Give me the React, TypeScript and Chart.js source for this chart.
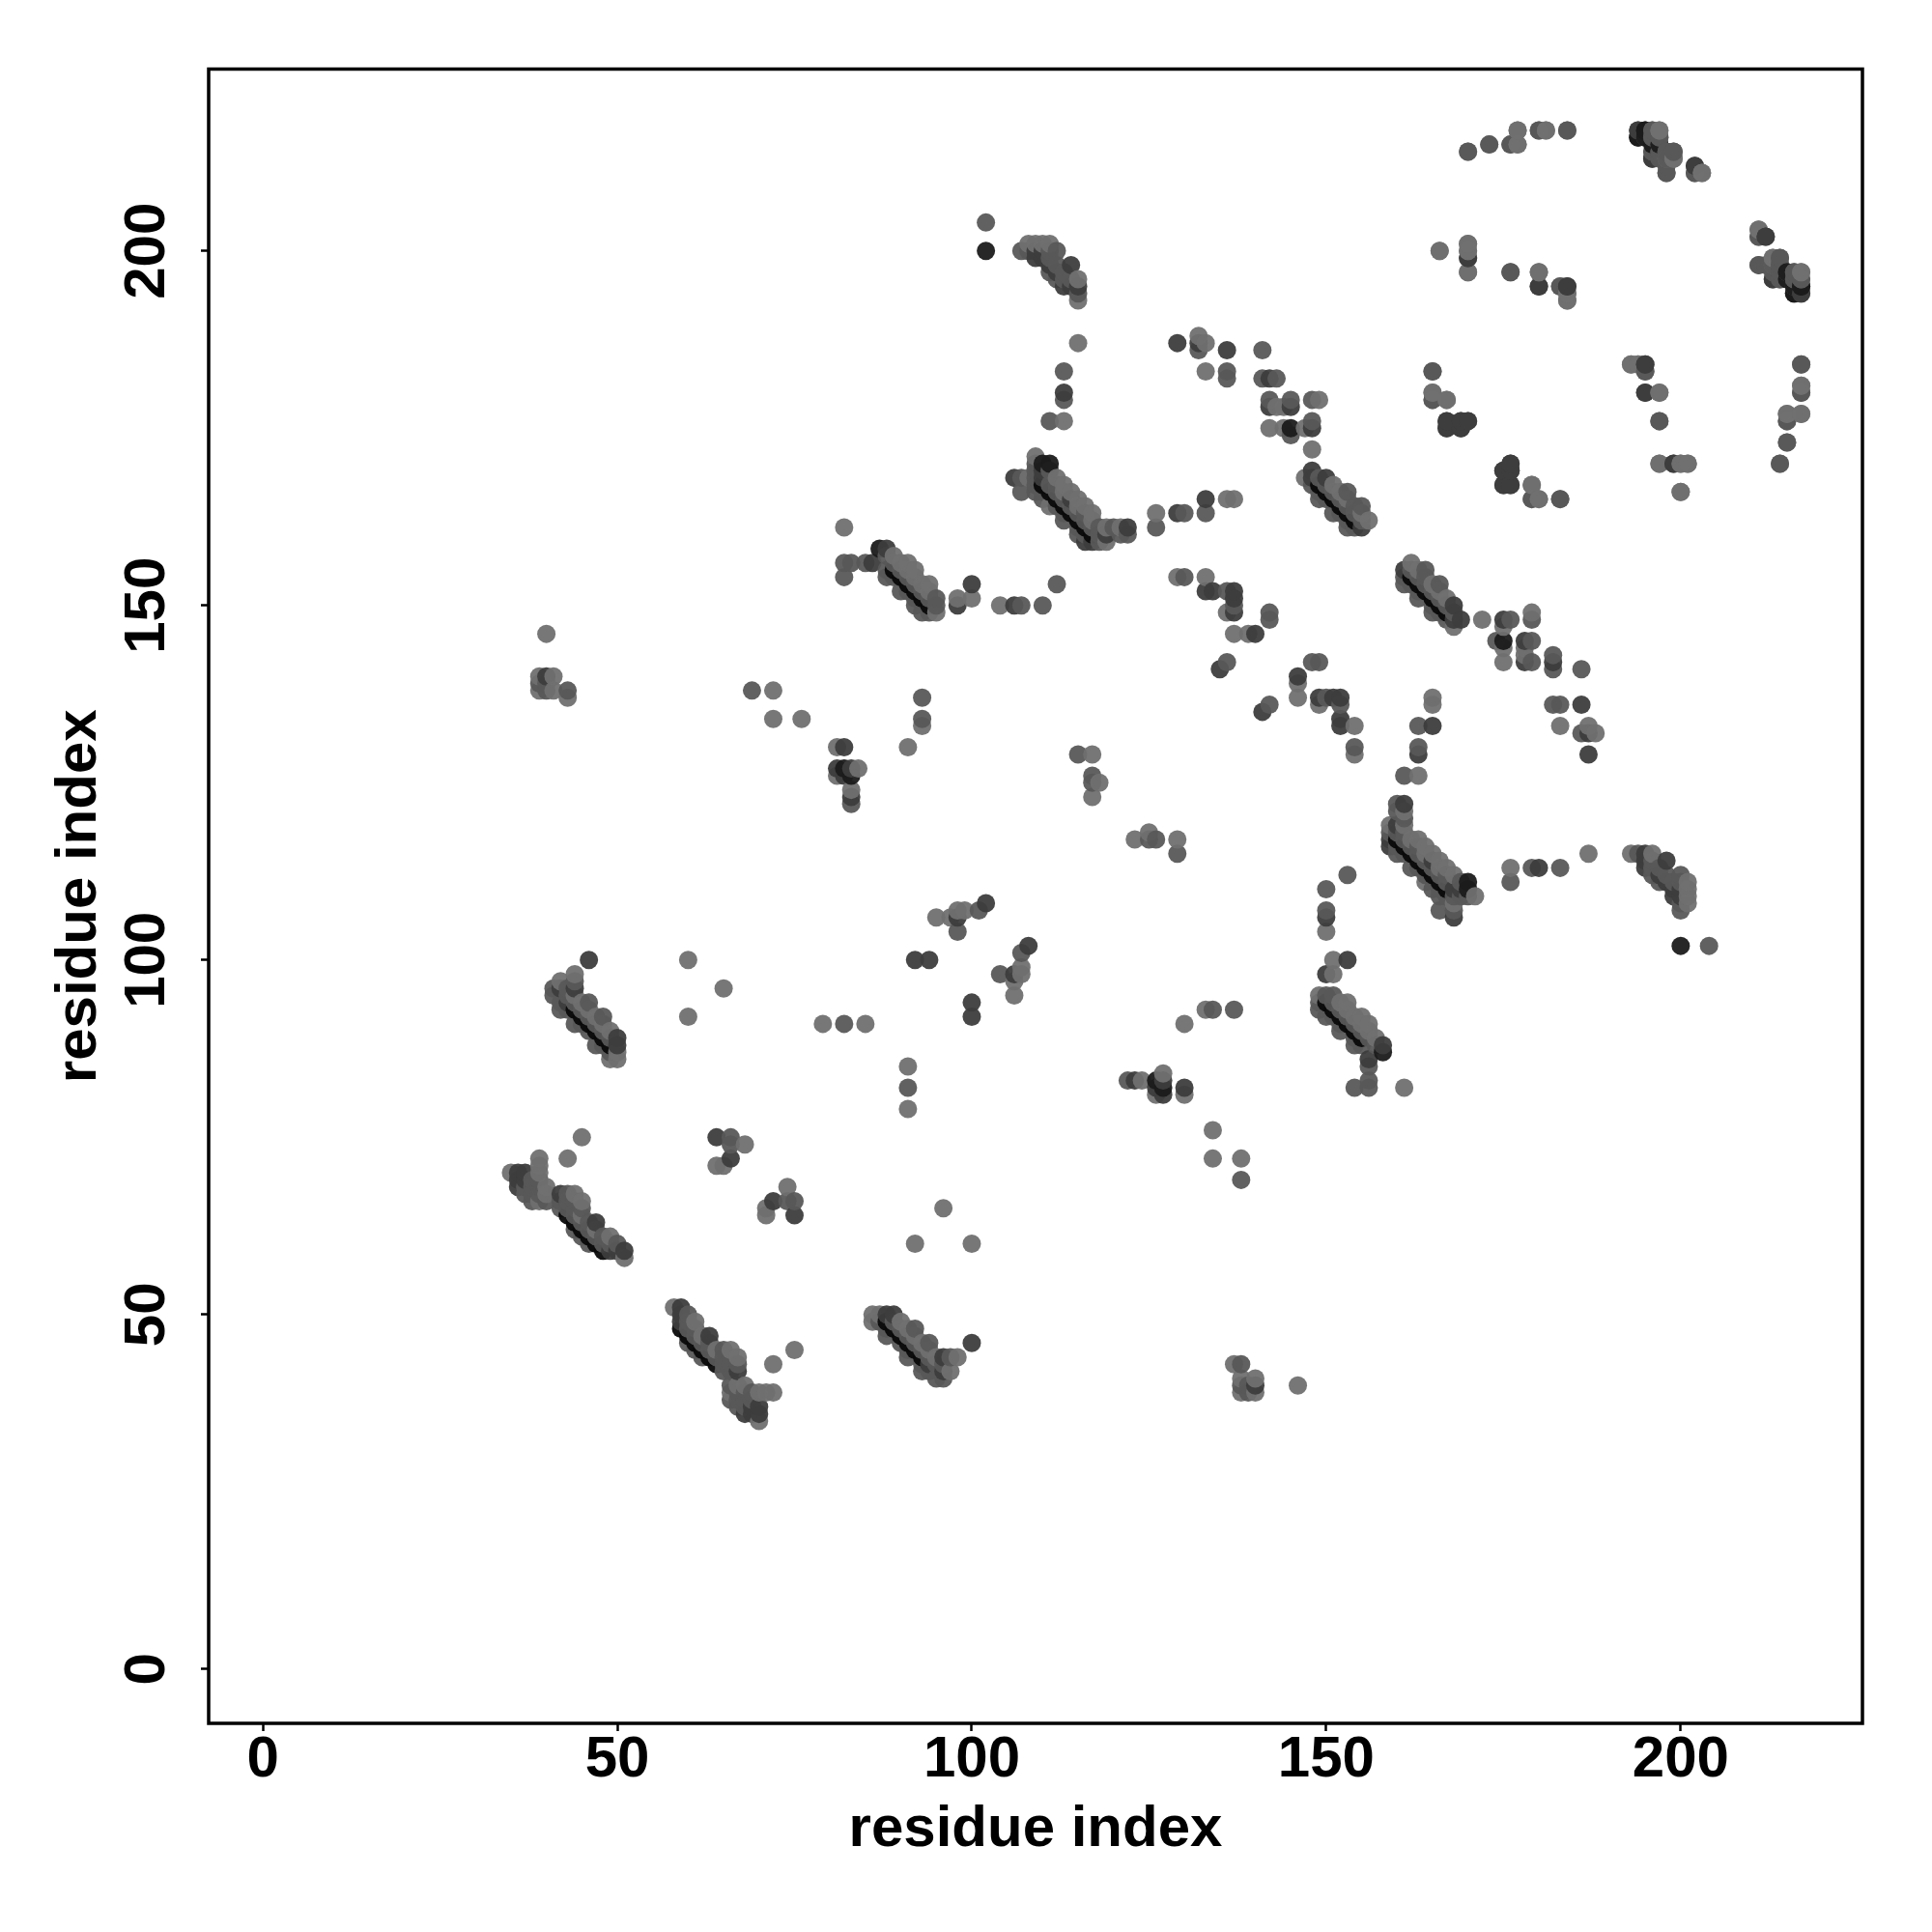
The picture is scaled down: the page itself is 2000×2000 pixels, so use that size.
import React, { useEffect, useRef } from "react";
import { Chart, registerables } from "chart.js";

Chart.register(...registerables);

const tickValues = [0, 50, 100, 150, 200];
const xAxisLabel = "residue index";
const yAxisLabel = "residue index";

// Contacts (i, j) with i < j; the map is symmetric, so each one is also shown as (j, i).
const lightContacts: number[][] = [
  [35,70],[39,72],[39,71],[39,70],[40,68],[40,67],[39,66],[44,67],[45,66],[51,58],[43,72],[45,75],
  [68,74],[64,71],[65,71],[60,92],[60,100],[65,96],[72,138],[72,134],[76,134],[79,91],[85,91],
  [81,130],[84,127],[81,126],[83,124],[91,130],[93,133],[95,106],[97,106],[98,107],[99,107],
  [40,146],[39,140],[41,140],[39,138],[41,138],[43,137],[117,129],[118,125],[117,123],
  [98,151],[100,151],[104,150],[82,161],[89,157],[91,156],[92,155],[94,153],[95,149],
  [90,156],[91,155],[92,154],[93,153],[94,152],[108,201],[109,201],[110,201],[111,201],[115,196],[115,193],[115,187],[113,176],
  [109,171],[108,168],[111,164],[112,168],[113,167],[114,166],[115,165],[116,164],[117,163],[113,166],[115,164],[117,162],[119,161],[119,159],[121,161],
  [126,163],[136,165],[137,165],[132,188],[133,187],[133,183],[143,178],[144,178],[149,179],[142,175],[144,175],[147,175],[148,172],
  [129,154],[133,154],[136,149],[137,146],[139,146],[147,168],[151,167],[153,165],[155,163],[152,166],[156,162],
  [165,180],[167,179],[179,167],[179,165],[180,165],[166,200],[170,201],[170,200],[170,197],[180,197],[183,195],[184,194],[184,193],
  [177,215],[177,217],[181,217],[197,217],[199,213],[203,211],[193,184],[194,184],[197,180],[197,170],[200,170],[201,170],[200,166],
  [211,203],[213,198],[213,199],[217,197],[217,181],[215,177],[217,177],[215,173],[214,170],
  [49,86],[50,86],[50,87],[49,90],[42,97],[44,98],[45,94],[47,92],[44,95],[46,93],[48,91],[49,61],[47,62],[45,64],
];

const midContacts: number[][] = [
  [38,69],[39,69],[37,68],[38,68],[39,68],[38,67],[39,67],[40,66],[38,66],[37,67],[43,67],[42,66],[43,66],[44,66],[45,65],[42,65],[43,65],[44,65],
  [44,64],[45,63],[46,63],[46,62],[44,62],[45,61],[47,61],[48,61],[46,60],[48,60],[49,60],[50,60],
  [66,75],[66,74],[69,138],[82,91],[83,122],[93,137],[93,134],[98,104],[101,107],
  [39,139],[40,139],[40,138],[43,138],[117,126],[117,125],[115,129],
  [107,150],[110,150],[112,153],[82,156],[83,156],[82,154],[85,156],[95,151],[95,150],
  [92,150],[93,149],[90,152],[88,154],[88,155],[89,154],[91,152],[92,151],[94,149],
  [88,157],[89,156],[90,155],[91,154],[92,153],[93,152],[94,151],[102,204],
  [107,200],[111,200],[112,200],[108,200],[111,199],[112,198],[111,197],[113,197],[113,196],[114,196],[115,194],[112,196],
  [113,183],[113,179],[111,176],[109,170],[107,168],[107,166],[109,169],[111,169],[109,168],[109,167],[109,166],
  [110,165],[113,162],[115,160],[110,166],[112,164],[113,163],[115,161],[116,160],
  [111,167],[112,166],[113,165],[114,164],[115,163],[116,162],[117,161],[118,160],
  [112,167],[116,163],[118,161],[118,159],[120,161],[122,160],[121,160],
  [126,161],[130,163],[133,163],[132,186],[136,183],[136,182],[141,186],[141,182],[143,182],[142,179],[145,179],[148,179],[145,174],[148,176],
  [130,154],[136,152],[137,150],[142,149],[142,148],[136,142],[148,167],
  [149,165],[151,163],[153,161],[149,166],[150,165],[152,163],[153,162],[154,161],
  [149,168],[150,167],[151,166],[152,165],[153,164],[154,163],[155,162],
  [154,164],[153,166],[155,164],[165,183],[165,179],[183,165],[176,197],[170,214],[173,215],[176,215],[180,217],[184,217],
  [196,217],[196,216],[197,216],[197,215],[196,214],[197,214],[198,214],[198,213],[199,214],[198,212],[198,211],[202,211],
  [195,183],[197,176],[211,202],[211,198],[213,197],[214,199],[214,198],[214,197],[214,196],[216,197],[216,196],[217,196],[216,195],
  [217,184],[217,180],[215,176],
  [42,93],[44,91],[47,88],[42,94],[43,93],[45,91],[46,90],[48,88],[49,87],
  [43,95],[44,94],[45,93],[46,92],[47,91],[48,90],[49,89],[43,96],[46,94],[48,92],[41,96],[41,95],[44,97],
];

const darkContacts: number[][] = [
  [36,70],[37,70],[36,69],[37,69],[36,68],[42,67],[47,63],[51,59],[50,59],[49,59],
  [64,75],[66,72],[46,100],[82,130],[81,127],[83,127],[82,126],[83,123],[92,100],[94,100],[98,106],[102,108],[40,140],
  [100,153],[98,150],[106,150],[86,156],[88,158],
  [110,200],[109,200],[110,199],[109,199],[111,198],[114,198],[112,197],[113,195],[114,195],[115,195],[113,180],
  [106,168],[110,169],[110,168],[114,165],
  [116,159],[117,159],[119,160],[122,161],[129,163],[133,165],[129,187],[132,187],[136,186],[142,182],[142,178],[145,178],[148,175],
  [133,152],[134,152],[137,152],[137,151],[137,149],[140,146],[135,141],[148,169],[148,168],[155,161],[150,168],
  [167,176],[167,175],[169,176],[169,175],[170,176],[175,169],[176,170],[176,169],[175,167],[176,167],[170,199],[180,195],[184,195],
  [194,217],[196,213],[202,212],[195,184],[195,180],[199,170],[212,202],[213,196],[217,194],
  [50,88],[50,89],[44,96],[42,96],[43,94],
];

const darkestContacts: number[][] = [
  [82,127],[83,126],[87,158],[102,200],[110,170],[111,170],[145,175],
  [195,217],[194,216],[195,216],[196,215],[215,197],[217,195],[216,194],
];

const ridgeContacts: number[][] = [
  [43,64],[44,63],[45,62],[46,61],[47,60],[48,59],
  [44,93],[45,92],[46,91],[47,90],[48,89],[49,88],
  [89,155],[90,154],[91,153],[92,152],[93,151],[94,150],
  [110,167],[111,166],[112,165],[113,164],[114,163],[115,162],[116,161],[117,160],
  [149,167],[150,166],[151,165],[152,164],[153,163],[154,162],
];

const tierColors = [
  "rgba(112,112,112,0.95)",
  "rgba(88,88,88,0.95)",
  "rgba(61,61,61,0.95)",
  "rgba(27,27,27,0.95)",
  "rgba(10,10,10,0.95)",
];

const tiers = [lightContacts, midContacts, darkContacts, darkestContacts, ridgeContacts];
const table = tiers
  .flatMap((list, tier) => list.flatMap(([i, j]) => [
    { x: i, y: j, color: tierColors[tier] },
    { x: j, y: i, color: tierColors[tier] },
  ]))
  .sort((a, b) => a.x - b.x || a.y - b.y);

const FONT = '"Liberation Sans", Arial, sans-serif';

const framePlugin = {
  id: "frame",
  afterDraw(chart: any) {
    const { ctx, chartArea: a } = chart;
    ctx.save();
    ctx.strokeStyle = "#000";
    ctx.lineWidth = 3.5;
    ctx.strokeRect(a.left, a.top, a.right - a.left, a.bottom - a.top);
    ctx.restore();
  },
};

const axisCommon = {
  type: "linear",
  min: -7.64,
  max: 225.64,
  afterBuildTicks(scale: any) {
    scale.ticks = tickValues.map((value) => ({ value }));
  },
  grid: {
    drawOnChartArea: false,
    drawTicks: true,
    tickLength: 8,
    tickWidth: 2.5,
    tickColor: "#000",
  },
  border: { display: false },
};

export default function App() {
  const ref = useRef<HTMLCanvasElement>(null);
  useEffect(() => {
    const chart = new Chart(ref.current as HTMLCanvasElement, {
      type: "scatter",
      data: {
        datasets: [
          {
            label: "contacts",
            data: table.map((p) => ({ x: p.x, y: p.y })),
            backgroundColor: table.map((p) => p.color),
            pointRadius: 9.5,
            pointBorderWidth: 0,
            borderWidth: 0,
          },
        ],
      },
      options: {
        responsive: false,
        animation: false,
        layout: { padding: { left: 0, top: 71.5, right: 72, bottom: 0 } },
        plugins: { legend: { display: false }, tooltip: { enabled: false }, title: { display: false } },
        scales: {
          x: {
            ...axisCommon,
            afterFit(scale: any) { scale.height = 216; },
            ticks: {
              autoSkip: false,
              maxRotation: 0,
              minRotation: 0,
              padding: -6,
              color: "#000",
              font: { family: FONT, weight: "bold", size: 60 },
              callback: (v: any) => String(v),
            },
            title: {
              display: true,
              text: xAxisLabel,
              color: "#000",
              font: { family: FONT, weight: "bold", size: 60 },
              padding: { top: 0, bottom: 70 },
            },
          },
          y: {
            ...axisCommon,
            afterFit(scale: any) { scale.width = 216; },
            ticks: {
              autoSkip: false,
              minRotation: 90,
              maxRotation: 90,
              crossAlign: "center",
              padding: 4,
              color: "#000",
              font: { family: FONT, weight: "bold", size: 60 },
              callback: (v: any) => String(v),
            },
            title: {
              display: true,
              text: yAxisLabel,
              color: "#000",
              font: { family: FONT, weight: "bold", size: 60 },
              padding: { top: 46, bottom: 0 },
            },
          },
        },
      } as any,
      plugins: [framePlugin],
    });
    return () => chart.destroy();
  }, []);
  return (
    <div style={{ position: "absolute", left: 0, top: 0, width: 2000, height: 2000, background: "#fff" }}>
      <canvas ref={ref} width={2000} height={2000} style={{ display: "block" }} />
    </div>
  );
}
